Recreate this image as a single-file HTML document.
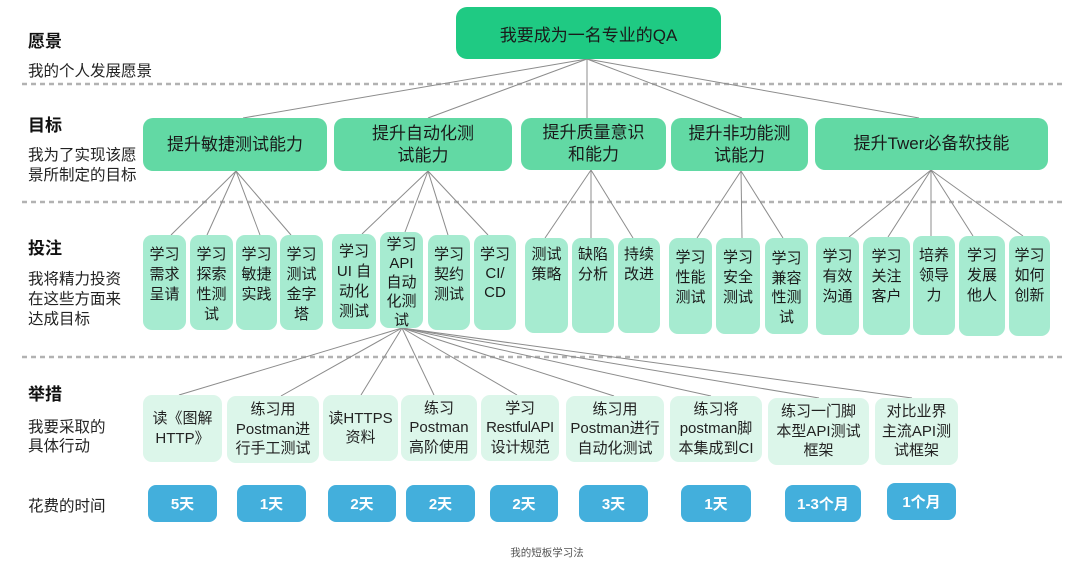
<!DOCTYPE html>
<html><head><meta charset="utf-8">
<style>
*{margin:0;padding:0;box-sizing:border-box}
html,body{width:1080px;height:570px;background:#fff;overflow:hidden}
body{position:relative;font-family:"Liberation Sans","Noto Sans CJK SC",sans-serif;color:#222}
.b{position:absolute;display:flex;align-items:center;justify-content:center;text-align:center}
.root{background:#1fca83;border-radius:11px;font-size:17px;color:#1a1a1a}
.g{background:#62d9a4;border-radius:10px;font-size:17px;line-height:22px;color:#1a1a1a}
.i{position:absolute;background:#a6ebd0;border-radius:9px;font-size:15px;line-height:20px;text-align:center;padding-top:10px;color:#1a1a1a}
.a{background:#dcf6ea;border-radius:9px;font-size:15px;line-height:19.5px;color:#222}
.t{background:#43afdc;border-radius:8px;font-size:15px;font-weight:bold;color:#fff}
.lh{position:absolute;left:28px;font-size:17px;font-weight:bold;line-height:20px;color:#111}
.ls{position:absolute;left:28px;font-size:15.5px;line-height:20px;color:#222}
svg{position:absolute;left:0;top:0}
</style></head><body>
<svg width="1080" height="570">
<g stroke="#b2b2b2" stroke-width="2.5" stroke-dasharray="5 4">
<line x1="22" y1="84" x2="1066" y2="84"/>
<line x1="22" y1="202" x2="1066" y2="202"/>
<line x1="22" y1="357" x2="1066" y2="357"/>
</g>
<g stroke="#8c8c8c" stroke-width="1" fill="none">
<line x1="587" y1="59" x2="243" y2="118"/>
<line x1="587" y1="59" x2="428" y2="118"/>
<line x1="587" y1="59" x2="587" y2="118"/>
<line x1="587" y1="59" x2="742" y2="118"/>
<line x1="587" y1="59" x2="919" y2="118"/>

<line x1="236" y1="171" x2="171" y2="235"/>
<line x1="236" y1="171" x2="207" y2="235"/>
<line x1="236" y1="171" x2="260" y2="235"/>
<line x1="236" y1="171" x2="291" y2="235"/>

<line x1="428" y1="171" x2="362" y2="234"/>
<line x1="428" y1="171" x2="405" y2="232"/>
<line x1="428" y1="171" x2="448" y2="235"/>
<line x1="428" y1="171" x2="488" y2="235"/>

<line x1="591" y1="170" x2="545" y2="238"/>
<line x1="591" y1="170" x2="591" y2="238"/>
<line x1="591" y1="170" x2="633" y2="238"/>

<line x1="741" y1="171" x2="697" y2="238"/>
<line x1="741" y1="171" x2="742" y2="238"/>
<line x1="741" y1="171" x2="783" y2="238"/>

<line x1="931" y1="170" x2="849" y2="237"/>
<line x1="931" y1="170" x2="888" y2="237"/>
<line x1="931" y1="170" x2="931" y2="236"/>
<line x1="931" y1="170" x2="973" y2="236"/>
<line x1="931" y1="170" x2="1023" y2="236"/>

<line x1="402" y1="328" x2="179" y2="395"/>
<line x1="402" y1="328" x2="281" y2="396"/>
<line x1="402" y1="328" x2="361" y2="395"/>
<line x1="402" y1="328" x2="434" y2="395"/>
<line x1="402" y1="328" x2="517" y2="395"/>
<line x1="402" y1="328" x2="614" y2="396"/>
<line x1="402" y1="328" x2="711" y2="396"/>
<line x1="402" y1="328" x2="819" y2="398"/>
<line x1="402" y1="328" x2="912" y2="398"/>
</g>
</svg>

<!-- left labels -->
<div class="lh" style="top:32px">愿景</div>
<div class="ls" style="top:62px">我的个人发展愿景</div>
<div class="lh" style="top:116px">目标</div>
<div class="ls" style="top:146px">我为了实现该愿<br>景所制定的目标</div>
<div class="lh" style="top:239px">投注</div>
<div class="ls" style="top:270px">我将精力投资<br>在这些方面来<br>达成目标</div>
<div class="lh" style="top:385px">举措</div>
<div class="ls" style="top:418px;line-height:19px">我要采取的<br>具体行动</div>
<div class="ls" style="top:497px">花费的时间</div>

<!-- root -->
<div class="b root" style="left:456px;top:7px;width:265px;height:52px">我要成为一名专业的QA</div>

<!-- goals -->
<div class="b g" style="left:143px;top:118px;width:184px;height:53px">提升敏捷测试能力</div>
<div class="b g" style="left:334px;top:118px;width:178px;height:53px">提升自动化测<br>试能力</div>
<div class="b g" style="left:521px;top:118px;width:145px;height:52px">提升质量意识<br>和能力</div>
<div class="b g" style="left:671px;top:118px;width:137px;height:53px">提升非功能测<br>试能力</div>
<div class="b g" style="left:815px;top:118px;width:233px;height:52px">提升Twer必备软技能</div>

<!-- investments -->
<div class="i" style="left:143px;top:235px;width:43px;height:95px">学习<br>需求<br>呈请</div>
<div class="i" style="left:190px;top:235px;width:43px;height:95px">学习<br>探索<br>性测<br>试</div>
<div class="i" style="left:236px;top:235px;width:41px;height:95px">学习<br>敏捷<br>实践</div>
<div class="i" style="left:280px;top:235px;width:43px;height:95px">学习<br>测试<br>金字<br>塔</div>
<div class="i" style="left:332px;top:234px;width:44px;height:95px;padding-top:8px">学习<br>UI 自<br>动化<br>测试</div>
<div class="i" style="left:380px;top:232px;width:43px;height:96px;padding-top:3px;line-height:19px">学习<br>API<br>自动<br>化测<br>试</div>
<div class="i" style="left:428px;top:235px;width:42px;height:95px">学习<br>契约<br>测试</div>
<div class="i" style="left:474px;top:235px;width:42px;height:95px;line-height:19px">学习<br>CI/<br>CD</div>
<div class="i" style="left:525px;top:238px;width:43px;height:95px;padding-top:7px">测试<br>策略</div>
<div class="i" style="left:572px;top:238px;width:42px;height:95px;padding-top:7px">缺陷<br>分析</div>
<div class="i" style="left:618px;top:238px;width:42px;height:95px;padding-top:7px">持续<br>改进</div>
<div class="i" style="left:669px;top:238px;width:43px;height:96px">学习<br>性能<br>测试</div>
<div class="i" style="left:716px;top:238px;width:44px;height:96px">学习<br>安全<br>测试</div>
<div class="i" style="left:765px;top:238px;width:43px;height:96px;padding-top:11px;line-height:19.5px">学习<br>兼容<br>性测<br>试</div>
<div class="i" style="left:816px;top:237px;width:43px;height:98px">学习<br>有效<br>沟通</div>
<div class="i" style="left:863px;top:237px;width:47px;height:98px">学习<br>关注<br>客户</div>
<div class="i" style="left:913px;top:236px;width:42px;height:99px">培养<br>领导<br>力</div>
<div class="i" style="left:959px;top:236px;width:46px;height:100px">学习<br>发展<br>他人</div>
<div class="i" style="left:1009px;top:236px;width:41px;height:100px">学习<br>如何<br>创新</div>

<!-- actions -->
<div class="b a" style="left:143px;top:395px;width:79px;height:67px">读《图解<br>HTTP》</div>
<div class="b a" style="left:227px;top:396px;width:92px;height:67px">练习用<br>Postman进<br>行手工测试</div>
<div class="b a" style="left:323px;top:395px;width:75px;height:66px">读HTTPS<br>资料</div>
<div class="b a" style="left:401px;top:395px;width:76px;height:66px">练习<br>Postman<br>高阶使用</div>
<div class="b a" style="left:481px;top:395px;width:78px;height:66px;letter-spacing:-0.3px">学习<br>RestfulAPI<br>设计规范</div>
<div class="b a" style="left:566px;top:396px;width:98px;height:66px">练习用<br>Postman进行<br>自动化测试</div>
<div class="b a" style="left:670px;top:396px;width:92px;height:66px">练习将<br>postman脚<br>本集成到CI</div>
<div class="b a" style="left:768px;top:398px;width:101px;height:67px">练习一门脚<br>本型API测试<br>框架</div>
<div class="b a" style="left:875px;top:398px;width:83px;height:67px">对比业界<br>主流API测<br>试框架</div>

<!-- time -->
<div class="b t" style="left:148px;top:485px;width:69px;height:37px">5天</div>
<div class="b t" style="left:237px;top:485px;width:69px;height:37px">1天</div>
<div class="b t" style="left:328px;top:485px;width:68px;height:37px">2天</div>
<div class="b t" style="left:406px;top:485px;width:69px;height:37px">2天</div>
<div class="b t" style="left:490px;top:485px;width:68px;height:37px">2天</div>
<div class="b t" style="left:579px;top:485px;width:69px;height:37px">3天</div>
<div class="b t" style="left:681px;top:485px;width:70px;height:37px">1天</div>
<div class="b t" style="left:785px;top:485px;width:76px;height:37px">1-3个月</div>
<div class="b t" style="left:887px;top:483px;width:69px;height:37px">1个月</div>

<div style="position:absolute;left:500px;top:546px;width:94px;text-align:center;font-size:10.5px;color:#555;line-height:14px">我的短板学习法</div>
</body></html>
